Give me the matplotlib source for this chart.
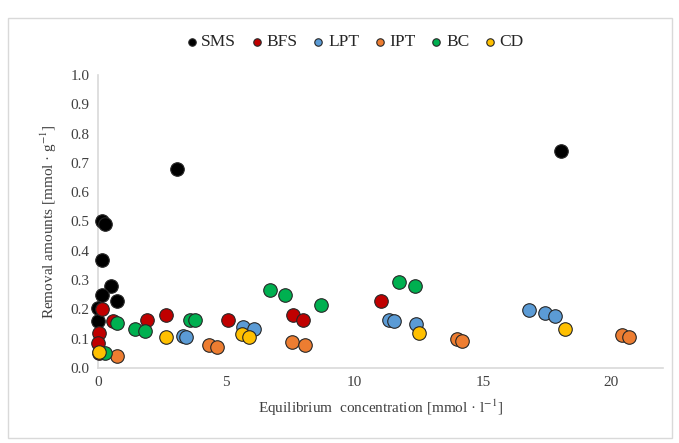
import matplotlib
matplotlib.use("Agg")
import matplotlib.pyplot as plt
from matplotlib.patches import Rectangle

plt.rcParams.update({
    "font.family": ["Liberation Serif", "DejaVu Serif"],
    "mathtext.fontset": "stix",
    "font.size": 11,
})

SERIES = ["SMS", "BFS", "LPT", "IPT", "BC", "CD"]
COLORS = {
    "SMS": "#000000",
    "BFS": "#C00000",
    "LPT": "#5B9BD5",
    "IPT": "#ED7D31",
    "BC": "#00B050",
    "CD": "#FFC000",
}

sms_x = [0.15, 0.3, 0.15, 0.53, 0.15, 0.73, 0.0, 0.0, 3.1, 18.05]
sms_y = [0.50, 0.49, 0.37, 0.28, 0.25, 0.23, 0.205, 0.16, 0.68, 0.74]

bfs_x = [0.18, 0.05, 0.0, 0.05, 0.6, 1.9, 2.67, 5.07, 7.6, 8.0, 11.04]
bfs_y = [0.20, 0.12, 0.085, 0.05, 0.16, 0.165, 0.18, 0.165, 0.18, 0.165, 0.23]

lpt_x = [3.32, 3.45, 5.66, 6.1, 11.36, 11.53, 12.4, 16.8, 17.4, 17.8]
lpt_y = [0.11, 0.105, 0.14, 0.135, 0.165, 0.16, 0.15, 0.198, 0.187, 0.178]

ipt_x = [0.73, 4.33, 4.66, 7.56, 8.08, 14.0, 14.2, 20.4, 20.7]
ipt_y = [0.04, 0.08, 0.073, 0.088, 0.078, 0.099, 0.093, 0.113, 0.107]

bc_x = [0.27, 0.75, 1.44, 1.83, 3.58, 3.77, 6.7, 7.3, 8.7, 11.75, 12.37]
bc_y = [0.05, 0.155, 0.135, 0.125, 0.165, 0.165, 0.265, 0.25, 0.215, 0.295, 0.28]

cd_x = [0.04, 2.65, 5.6, 5.9, 12.5, 18.2]
cd_y = [0.054, 0.107, 0.118, 0.107, 0.12, 0.135]

DATA = {
    "SMS": (sms_x, sms_y),
    "BFS": (bfs_x, bfs_y),
    "LPT": (lpt_x, lpt_y),
    "IPT": (ipt_x, ipt_y),
    "BC": (bc_x, bc_y),
    "CD": (cd_x, cd_y),
}

TEXT = "#404040"

fig = plt.figure(figsize=(6.79, 4.43), dpi=100)
fig.patches.append(Rectangle((0.012, 0.012), 0.978, 0.948, transform=fig.transFigure,
                             fill=False, edgecolor="#d9d9d9", linewidth=1.0))
ax = fig.add_axes([0.144, 0.169, 0.832, 0.662])

for name in SERIES:
    xs, ys = DATA[name]
    ax.scatter(xs, ys, s=95, color=COLORS[name], edgecolor="#262626",
               linewidth=0.8, label=name, zorder=3, clip_on=False)

ax.set_xlim(0, 22)
ax.set_ylim(0, 1.0)
ax.set_xticks([0, 5, 10, 15, 20])
ax.set_yticks([i / 10 for i in range(11)])
ax.set_yticklabels([f"{i / 10:.1f}" for i in range(11)])
ax.tick_params(length=0, colors=TEXT, labelsize=11, pad=6)
for side in ("top", "right"):
    ax.spines[side].set_visible(False)
for side in ("left", "bottom"):
    ax.spines[side].set_color("#d9d9d9")
    ax.spines[side].set_linewidth(1.2)

ax.set_xlabel("Equilibrium  concentration [mmol · l$^{-1}$]", color=TEXT, fontsize=11, labelpad=6)
ax.set_ylabel("Removal amounts [mmol · g$^{-1}$]", color=TEXT, fontsize=11, labelpad=8)

handles, labels = ax.get_legend_handles_labels()
fig.legend(handles, labels, loc="center", bbox_to_anchor=(0.523, 0.905), ncol=6,
           frameon=False, fontsize=12.5, markerscale=0.55, handlelength=0.6,
           handletextpad=0.25, columnspacing=0.9, labelcolor="#262626")

fig.savefig("out.png", dpi=100)
